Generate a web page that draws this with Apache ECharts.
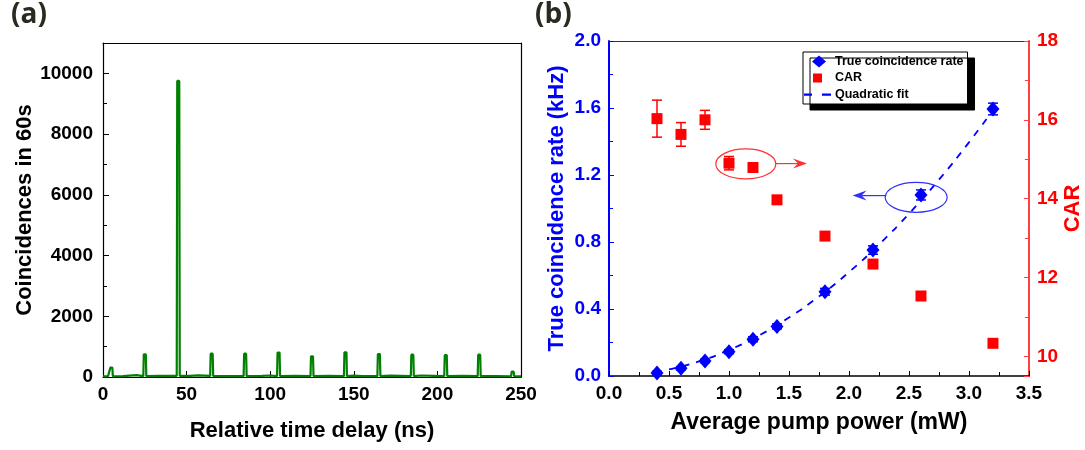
<!DOCTYPE html>
<html>
<head>
<meta charset="utf-8">
<title>Coincidences and CAR</title>
<script src="https://cdn.jsdelivr.net/npm/echarts@6/dist/echarts.min.js"></script>
</head>
<body style="margin:0;background:#fff;">
<div id="main" style="width:1085px;height:450px;"></div>
<script>
// (a) coincidence histogram
var delayNs = [0, 3, 4.1, 4.4, 5.6, 5.9, 12, 20, 21, 24.1, 24.4, 25.6, 25.9, 33, 40, 44.1, 44.4, 45.6, 45.9, 52, 57, 58,
  64.1, 64.4, 65.6, 65.9, 75, 84.1, 84.4, 85.6, 85.9, 95, 100, 104.1, 104.4, 105.6, 105.9, 115, 124.1, 124.4, 125.6, 125.9,
  135, 144.1, 144.4, 145.6, 145.9, 150, 155, 164.1, 164.4, 165.6, 165.9, 172, 184.1, 184.4, 185.6, 185.9, 190, 198,
  204.1, 204.4, 205.6, 205.9, 215, 224.1, 224.4, 225.6, 225.9, 235, 244.1, 244.4, 245.6, 245.9, 250];
var coincidences = [20, 25, 25, 309, 309, 25, 30, 60, 30, 30, 746, 746, 30, 35, 40, 40, 9750, 9750, 40, 35, 55, 30,
  35, 769, 769, 35, 30, 30, 769, 769, 30, 35, 50, 30, 802, 802, 30, 35, 30, 680, 680, 30,
  35, 30, 812, 812, 30, 45, 30, 30, 756, 756, 30, 45, 30, 736, 736, 30, 50, 40,
  30, 723, 723, 30, 35, 30, 736, 736, 30, 30, 25, 177, 177, 25, 20];

// (b) pump power dependence
var pumpPower = [0.4, 0.6, 0.8, 1.0, 1.2, 1.4, 1.8, 2.2, 2.6, 3.2];
var trueRate = [0.018, 0.046, 0.09, 0.145, 0.219, 0.296, 0.503, 0.752, 1.081, 1.594];
var trueRateErr = [0.01, 0.01, 0.01, 0.012, 0.015, 0.015, 0.02, 0.025, 0.03, 0.035];
var carValue = [16.03, 15.63, 16.0, 14.9, 14.79, 13.97, 13.05, 12.34, 11.53, 10.33];
var carErr = [0.47, 0.3, 0.24, 0.17, 0.1, 0.05, 0.05, 0.05, 0.05, 0.05];
var fitPower = [0.5, 0.75, 1.0, 1.25, 1.5, 1.75, 2.0, 2.25, 2.5, 2.75, 3.0, 3.2];
var fitRate = [0.039, 0.087, 0.155, 0.242, 0.349, 0.475, 0.62, 0.785, 0.969, 1.172, 1.395, 1.587];

var font = 'Arial';
var blue = '#0000ff';
var red = '#ff0000';

function pairs(xs, ys) {
  var out = [];
  for (var i = 0; i < xs.length; i++) out.push([xs[i], ys[i]]);
  return out;
}
function bars(xs, ys, es) {
  var out = [];
  for (var i = 0; i < xs.length; i++) out.push([xs[i], ys[i] - es[i], ys[i] + es[i]]);
  return out;
}
function errorBar(color) {
  return function (params, api) {
    var x = api.value(0);
    var lo = api.coord([x, api.value(1)]);
    var hi = api.coord([x, api.value(2)]);
    var cap = 5;
    var st = { stroke: color, lineWidth: 1.5 };
    return { type: 'group', children: [
      { type: 'line', shape: { x1: lo[0], y1: lo[1], x2: hi[0], y2: hi[1] }, style: st },
      { type: 'line', shape: { x1: lo[0] - cap, y1: lo[1], x2: lo[0] + cap, y2: lo[1] }, style: st },
      { type: 'line', shape: { x1: hi[0] - cap, y1: hi[1], x2: hi[0] + cap, y2: hi[1] }, style: st }
    ] };
  };
}
function lbl(color, fmt) {
  return { color: color, fontSize: 19, fontWeight: 'bold', fontFamily: font, margin: 8, formatter: fmt };
}
var plainLine = function (color, w) { return { show: true, onZero: false, lineStyle: { color: color, width: w } }; };
var fixed1 = function (v) { return v.toFixed(1); };
var plainNum = function (v) { return String(v); };

// legend icons in a 27x12 box (tiny corner specks fix the box size)
var box = 'M0,0L0.01,0L0,0.01Z M27,12L26.99,12L27,11.99Z ';
var iconDiamond = 'path://' + box + 'M8,6L15,0L22,6L15,12Z';
var iconSquare = 'path://' + box + 'M9,1.5L18,1.5L18,10.5L9,10.5Z';
var iconDash = 'path://' + box + 'M0,5L8,5L8,7.2L0,7.2Z M18,5L27,5L27,7.2L18,7.2Z';

var chart = echarts.init(document.getElementById('main'));
var option = {
  animation: false,
  backgroundColor: '#fff',
  title: [
    { text: '(a)', left: 6, top: -4, textStyle: { fontSize: 28, fontWeight: 'bold', color: '#2b2a1f', fontFamily: '"Open Sans", sans-serif' } },
    { text: '(b)', left: 530, top: -4, textStyle: { fontSize: 28, fontWeight: 'bold', color: '#2b2a1f', fontFamily: '"Open Sans", sans-serif' } }
  ],
  grid: [
    { left: 103, top: 43, width: 418, height: 334 },
    { left: 609, top: 41, width: 420, height: 335 }
  ],
  legend: {
    data: [
      { name: 'True coincidence rate', icon: iconDiamond, itemStyle: { borderWidth: 0 } },
      { name: 'CAR', icon: iconSquare, itemStyle: { borderWidth: 0 } },
      { name: 'Quadratic fit', icon: iconDash, itemStyle: { borderWidth: 0 } }
    ],
    orient: 'vertical', left: 803, top: 52,
    itemWidth: 27, itemHeight: 12, itemGap: 3.5,
    padding: [3, 4, 3, 1],
    backgroundColor: '#fff', borderColor: '#000', borderWidth: 1,
    shadowColor: '#000', shadowBlur: 0, shadowOffsetX: 7, shadowOffsetY: 6,
    textStyle: { fontSize: 12.5, fontWeight: 'bold', fontFamily: font, color: '#000', padding: [0, 0, 0, -1] }
  },
  xAxis: [
    { gridIndex: 0, type: 'value', min: 0, max: 250, interval: 50,
      axisLine: plainLine('#000', 1.2),
      axisTick: { inside: true, length: 6, lineStyle: { color: '#000' } },
      splitLine: { show: false },
      axisLabel: lbl('#000'),
      name: 'Relative time delay (ns)', nameLocation: 'middle', nameGap: 43,
      nameTextStyle: { fontSize: 22, fontWeight: 'bold', fontFamily: font, color: '#000' } },
    { gridIndex: 0, type: 'value', position: 'top', min: 0, max: 250,
      axisLine: plainLine('#000', 1.2), axisTick: { show: false }, axisLabel: { show: false }, splitLine: { show: false } },
    { gridIndex: 1, type: 'value', min: 0, max: 3.5, interval: 0.5,
      axisLine: plainLine('#000', 1.5),
      axisTick: { inside: true, length: 5, lineStyle: { color: '#000' } },
      minorTick: { show: true, splitNumber: 2, length: 4, lineStyle: { color: '#000' } },
      splitLine: { show: false },
      axisLabel: lbl('#000', fixed1),
      name: 'Average pump power (mW)', nameLocation: 'middle', nameGap: 35,
      nameTextStyle: { fontSize: 23, fontWeight: 'bold', fontFamily: font, color: '#000' } },
    { gridIndex: 1, type: 'value', position: 'top', min: 0, max: 3.5,
      axisLine: plainLine('#333', 1.2), axisTick: { show: false }, axisLabel: { show: false }, splitLine: { show: false } }
  ],
  yAxis: [
    { gridIndex: 0, type: 'value', min: 0, max: 11000, interval: 2000,
      axisLine: plainLine('#000', 1.2),
      axisTick: { inside: true, length: 6, lineStyle: { color: '#000' } },
      minorTick: { show: true, splitNumber: 2, length: 4, lineStyle: { color: '#000' } },
      splitLine: { show: false },
      axisLabel: Object.assign(lbl('#000', plainNum), { showMaxLabel: false, margin: 10 }),
      name: 'Coincidences in 60s', nameLocation: 'middle', nameGap: 66, nameRotate: 90,
      nameTextStyle: { fontSize: 22, fontWeight: 'bold', fontFamily: font, color: '#000' } },
    { gridIndex: 0, type: 'value', position: 'right', min: 0, max: 11000,
      axisLine: plainLine('#000', 1.2), axisTick: { show: false }, axisLabel: { show: false }, splitLine: { show: false } },
    { gridIndex: 1, type: 'value', min: 0, max: 2, interval: 0.4,
      axisLine: plainLine(blue, 2),
      axisTick: { inside: true, length: 5, lineStyle: { color: blue } },
      minorTick: { show: true, splitNumber: 2, length: 4, lineStyle: { color: blue } },
      splitLine: { show: false },
      axisLabel: lbl(blue, fixed1),
      name: 'True coincidence rate (kHz)', nameLocation: 'middle', nameGap: 41, nameRotate: 90,
      nameTextStyle: { fontSize: 22, fontWeight: 'bold', fontFamily: font, color: blue } },
    { gridIndex: 1, type: 'value', position: 'right', min: 9.5, max: 18, splitNumber: 4,
      axisLine: plainLine('#ff4040', 2),
      axisTick: { inside: true, length: 5, lineStyle: { color: '#ff4040' } },
      minorTick: { show: true, splitNumber: 2, length: 4, lineStyle: { color: '#ff4040' } },
      splitLine: { show: false },
      axisLabel: Object.assign(lbl(red), { showMinLabel: false }),
      name: 'CAR', nameLocation: 'middle', nameGap: 32, nameRotate: 90,
      nameTextStyle: { fontSize: 22, fontWeight: 'bold', fontFamily: font, color: red } }
  ],
  series: [
    { type: 'line', xAxisIndex: 0, yAxisIndex: 0, data: pairs(delayNs, coincidences),
      symbol: 'none', lineStyle: { color: '#008000', width: 2.2 }, itemStyle: { color: '#008000' } },
    { type: 'custom', xAxisIndex: 2, yAxisIndex: 2, data: bars(pumpPower, trueRate, trueRateErr),
      renderItem: errorBar(blue), encode: { x: 0, y: [1, 2] }, z: 2 },
    { type: 'custom', xAxisIndex: 2, yAxisIndex: 3, data: bars(pumpPower, carValue, carErr),
      renderItem: errorBar(red), encode: { x: 0, y: [1, 2] }, z: 2 },
    { name: 'Quadratic fit', type: 'line', xAxisIndex: 2, yAxisIndex: 2, data: pairs(fitPower, fitRate),
      symbol: 'none', smooth: true,
      lineStyle: { color: blue, width: 1.8, type: [7, 7] }, itemStyle: { color: blue }, z: 3 },
    { name: 'True coincidence rate', type: 'scatter', xAxisIndex: 2, yAxisIndex: 2, data: pairs(pumpPower, trueRate),
      symbol: 'diamond', symbolSize: [13, 15], itemStyle: { color: blue, opacity: 1 }, z: 4 },
    { name: 'CAR', type: 'scatter', xAxisIndex: 2, yAxisIndex: 3, data: pairs(pumpPower, carValue),
      symbol: 'rect', symbolSize: 11, itemStyle: { color: red, opacity: 1 }, z: 4 }
  ]
};
chart.setOption(option);

// annotation ellipses and arrows, placed in data space
function arrow(from, to, color) {
  var dir = to[0] > from[0] ? 1 : -1;
  var tx = to[0], ty = to[1];
  return [
    { type: 'line', shape: { x1: from[0], y1: from[1], x2: tx - dir * 8, y2: ty }, style: { stroke: color, lineWidth: 1.2 }, z: 10 },
    { type: 'polygon', shape: { points: [[tx, ty], [tx - dir * 14, ty - 5], [tx - dir * 9, ty], [tx - dir * 14, ty + 5]] },
      style: { fill: color }, z: 10 }
  ];
}
var redC = chart.convertToPixel({ xAxisIndex: 2, yAxisIndex: 3 }, [1.14, 14.88]);
var redA0 = chart.convertToPixel({ xAxisIndex: 2, yAxisIndex: 3 }, [1.39, 14.89]);
var redA1 = chart.convertToPixel({ xAxisIndex: 2, yAxisIndex: 3 }, [1.65, 14.89]);
var bluC = chart.convertToPixel({ xAxisIndex: 2, yAxisIndex: 2 }, [2.56, 1.067]);
var bluA0 = chart.convertToPixel({ xAxisIndex: 2, yAxisIndex: 2 }, [2.31, 1.077]);
var bluA1 = chart.convertToPixel({ xAxisIndex: 2, yAxisIndex: 2 }, [2.03, 1.077]);
chart.setOption({
  graphic: [
    { type: 'ellipse', shape: { cx: redC[0], cy: redC[1], rx: 30, ry: 15 }, style: { fill: null, stroke: '#ff3030', lineWidth: 1.2 }, z: 10 },
    { type: 'ellipse', shape: { cx: bluC[0], cy: bluC[1], rx: 31, ry: 15 }, style: { fill: null, stroke: '#3030ff', lineWidth: 1.2 }, z: 10 }
  ].concat(arrow(redA0, redA1, '#ff3030')).concat(arrow(bluA0, bluA1, '#3030ff'))
});
</script>
</body>
</html>
